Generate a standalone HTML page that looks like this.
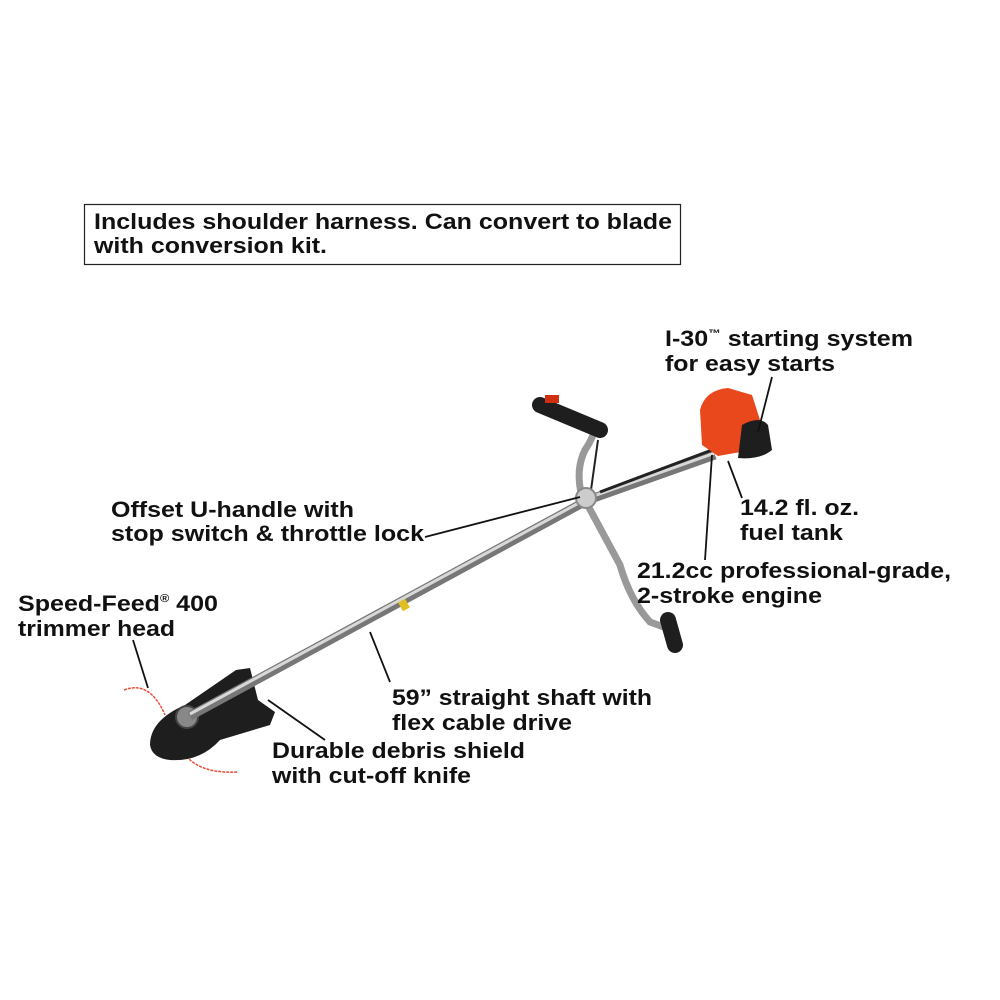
<!DOCTYPE html>
<html><head><meta charset="utf-8"><style>
html,body{margin:0;padding:0;background:#fff}
svg{display:block}
text{font-family:"Liberation Sans",Arial,sans-serif;font-weight:bold;font-size:22px;fill:#111}
</style></head><body>
<svg width="1000" height="1000" viewBox="0 0 1000 1000">
<rect x="84.5" y="204.5" width="596" height="60" fill="#fff" stroke="#222" stroke-width="1.2"/>
<text x="94" y="229" textLength="578" lengthAdjust="spacingAndGlyphs">Includes shoulder harness. Can convert to blade</text>
<text x="94" y="253" textLength="233" lengthAdjust="spacingAndGlyphs">with conversion kit.</text>

<!-- trimmer line arcs -->
<path d="M124 690 Q150 680 165 715" fill="none" stroke="#e8503a" stroke-width="1.5" stroke-dasharray="3 1"/>
<path d="M176 735 Q185 775 238 772" fill="none" stroke="#e8503a" stroke-width="1.5" stroke-dasharray="3 1"/>
<!-- debris shield -->
<path d="M150 745 Q150 720 185 705 L236 670 L250 668 L258 700 L275 712 L270 725 L220 740 Q200 762 170 760 Q152 758 150 745Z" fill="#1e1e1e"/>
<circle cx="187" cy="717" r="11" fill="#888" stroke="#444" stroke-width="2"/>
<!-- shaft -->
<polyline points="190,716 588,500 715,455" fill="none" stroke="#777" stroke-width="9" stroke-linejoin="round"/>
<polyline points="190,714 588,498 715,453" fill="none" stroke="#d8d8d8" stroke-width="3" stroke-linejoin="round"/>
<polyline points="600,492 712,450" fill="none" stroke="#222" stroke-width="3"/>
<rect x="400" y="600" width="8" height="10" fill="#e0c020" transform="rotate(-28 404 605)"/>
<!-- U-handle -->
<path d="M582 497 Q575 470 585 450 Q595 435 595 425" fill="none" stroke="#999" stroke-width="7"/>
<path d="M590 497 L598 440" fill="none" stroke="#222" stroke-width="2"/>
<path d="M586 502 L620 565 Q630 600 650 622 L672 630" fill="none" stroke="#999" stroke-width="7"/>
<path d="M540 405 L600 430" stroke="#1e1e1e" stroke-width="16" stroke-linecap="round"/>
<rect x="545" y="395" width="14" height="8" fill="#d03010"/>
<path d="M668 620 L675 645" stroke="#1e1e1e" stroke-width="16" stroke-linecap="round"/>
<circle cx="586" cy="498" r="10" fill="#ccc" stroke="#888" stroke-width="2"/>
<!-- engine -->
<path d="M700 410 Q705 390 728 388 L752 395 L760 420 L752 450 L718 456 L702 445Z" fill="#e8481c"/>
<path d="M742 425 Q760 415 768 425 L772 450 Q760 460 738 458Z" fill="#1e1e1e"/>

<!-- leaders -->
<g stroke="#111" stroke-width="1.8" fill="none">
<line x1="772" y1="377" x2="758" y2="432"/>
<line x1="742" y1="498" x2="728" y2="461"/>
<line x1="705" y1="560" x2="712" y2="455"/>
<line x1="425" y1="537" x2="580" y2="497"/>
<line x1="390" y1="682" x2="370" y2="632"/>
<line x1="325" y1="740" x2="268" y2="700"/>
<line x1="133" y1="640" x2="148" y2="688"/>
</g>

<text x="665" y="346" textLength="248" lengthAdjust="spacingAndGlyphs">I-30<tspan font-size="11" dy="-9">™</tspan><tspan dy="9"> starting system</tspan></text>
<text x="665" y="371" textLength="170" lengthAdjust="spacingAndGlyphs">for easy starts</text>
<text x="111" y="517" textLength="243" lengthAdjust="spacingAndGlyphs">Offset U-handle with</text>
<text x="111" y="541" textLength="313" lengthAdjust="spacingAndGlyphs">stop switch &amp; throttle lock</text>
<text x="740" y="515" textLength="119" lengthAdjust="spacingAndGlyphs">14.2 fl. oz.</text>
<text x="740" y="540" textLength="103" lengthAdjust="spacingAndGlyphs">fuel tank</text>
<text x="637" y="578" textLength="314" lengthAdjust="spacingAndGlyphs">21.2cc professional-grade,</text>
<text x="637" y="603" textLength="185" lengthAdjust="spacingAndGlyphs">2-stroke engine</text>
<text x="18" y="611" textLength="200" lengthAdjust="spacingAndGlyphs">Speed-Feed<tspan font-size="11" dy="-9">®</tspan><tspan dy="9"> 400</tspan></text>
<text x="18" y="636" textLength="157" lengthAdjust="spacingAndGlyphs">trimmer head</text>
<text x="392" y="705" textLength="260" lengthAdjust="spacingAndGlyphs">59” straight shaft with</text>
<text x="392" y="730" textLength="180" lengthAdjust="spacingAndGlyphs">flex cable drive</text>
<text x="272" y="758" textLength="253" lengthAdjust="spacingAndGlyphs">Durable debris shield</text>
<text x="272" y="783" textLength="199" lengthAdjust="spacingAndGlyphs">with cut-off knife</text>
</svg>
</body></html>
